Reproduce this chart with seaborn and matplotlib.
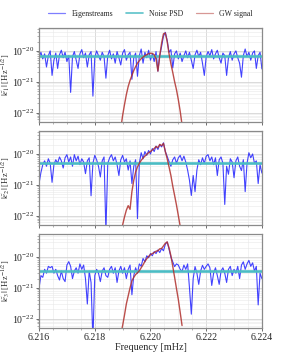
import matplotlib
matplotlib.use("Agg")
import matplotlib.pyplot as plt
import numpy as np
import seaborn as sns
from matplotlib.lines import Line2D
from matplotlib.ticker import (MultipleLocator, FixedLocator, NullFormatter,
                               FormatStrFormatter, LogFormatterMathtext)

# frequency grid (mHz), 121 bins between 6.216 and 6.224
freqs = np.linspace(6.216, 6.224, 121)
sig_freqs = freqs[44:78]

# eigenstream amplitudes, in units of 1e-21 Hz^-1/2
stream1 = [6.0, 9.0, 5.5, 8.0, 3.0, 7.0, 10.0, 1.6, 5.0, 8.5,
           2.7, 7.5, 10.5, 6.0, 9.0, 4.5, 7.0, 0.45, 6.5, 9.5,
           5.0, 2.7, 8.0, 11.0, 6.0, 8.5, 3.0, 7.5, 9.5, 0.34,
           6.0, 10.0, 7.0, 5.0, 9.0, 6.5, 1.3, 7.0, 10.5, 5.5,
           8.0, 4.0, 9.5, 6.0, 3.5, 8.5, 11.0, 5.0, 7.5, 9.0,
           1.2, 6.0, 8.5, 1.5, 7.0, 11.5, 4.0, 9.0, 6.0, 10.5,
           5.0, 8.0, 4.5, 9.5, 2.2, 7.0, 14.0, 30.0, 40.0, 22.0,
           9.0, 11.0, 2.8, 8.0, 10.0, 5.5, 8.5, 4.5, 7.0, 10.0,
           6.0, 9.0, 5.0, 2.7, 7.5, 10.5, 6.5, 9.0, 4.0, 1.6,
           6.5, 9.5, 7.0, 11.0, 5.5, 8.0, 10.5, 6.0, 4.0, 8.5,
           7.0, 1.6, 6.0, 9.5, 5.0, 8.0, 10.0, 6.0, 4.0, 1.4,
           7.0, 11.5, 6.5, 9.0, 5.0, 8.5, 10.0, 2.7, 7.0, 9.0,
           2.6]
stream2 = [1.1, 2.5, 4.5, 6.0, 4.0, 7.0, 5.0, 1.2, 4.5, 6.5,
           5.0, 8.0, 6.0, 3.5, 7.5, 9.5, 5.5, 8.0, 4.0, 9.5,
           6.0, 8.5, 4.5, 7.0, 5.5, 2.3, 6.0, 7.5, 0.44, 5.0,
           9.0, 6.5, 4.0, 1.8, 6.0, 8.0, 0.03, 5.0, 7.5, 9.5,
           6.0, 8.0, 4.5, 2.0, 6.5, 9.0, 5.5, 7.0, 3.0, 6.0,
           1.1, 4.0, 6.5, 0.08, 5.0, 11.0, 7.0, 12.0, 9.0, 13.0,
           10.0, 15.0, 12.0, 18.0, 14.0, 20.0, 17.0, 23.0, 12.0, 8.3,
           5.7, 4.0, 6.5, 8.0, 5.0, 7.5, 9.0, 6.0, 8.5, 5.5,
           3.0, 1.4, 0.45, 2.0, 0.6, 3.0, 6.5, 4.5, 7.5, 5.0,
           8.5, 9.5, 6.0, 8.0, 4.5, 7.5, 2.0, 6.5, 8.0, 5.0,
           0.23, 4.0, 2.2, 7.0, 5.5, 1.7, 6.0, 8.0, 4.0, 2.9,
           6.5, 0.6, 5.0, 11.0, 7.5, 10.0, 5.0, 6.0, 1.1, 4.5,
           2.4]
stream3 = [1.0, 2.5, 2.2, 4.0, 3.0, 5.0, 4.5, 5.0, 3.0, 4.0,
           2.5, 1.8, 3.5, 2.0, 1.6, 5.5, 7.1, 5.0, 2.0, 3.5,
           4.5, 3.0, 6.0, 4.0, 5.5, 2.0, 0.3, 3.5, 1.5, 0.02,
           2.5, 4.0, 3.0, 1.6, 3.5, 4.5, 2.5, 2.2, 4.0, 5.0,
           3.0, 4.5, 1.5, 3.5, 5.0, 3.0, 4.5, 2.0, 4.0, 5.5,
           0.6, 2.5, 4.5, 3.0, 6.0, 5.0, 9.0, 7.0, 11.0, 9.5,
           13.0, 11.0, 15.0, 13.0, 17.0, 14.0, 19.0, 16.0, 26.0, 31.0,
           18.0, 10.0, 7.0, 4.9, 6.0, 5.5, 4.0, 3.4, 5.5, 4.0,
           6.0, 1.0, 0.14, 2.0, 4.9, 3.0, 1.3, 3.5, 5.4, 4.0,
           5.0, 6.0, 4.5, 1.2, 3.0, 4.5, 2.5, 1.3, 3.5, 4.5,
           3.0, 1.5, 4.0, 5.0, 2.5, 4.0, 3.0, 5.0, 2.0, 5.5,
           7.0, 4.0, 6.0, 7.8, 5.0, 6.5, 3.5, 5.0, 0.28, 3.0,
           2.0]

# injected GW signal, same units, on the bins 6.21893 .. 6.22113 mHz
signal1 = [0.03, 0.08, 0.18, 0.38, 0.7, 1.1, 1.6, 2.3, 3.1, 4.0,
           4.8, 5.6, 6.3, 7.0, 7.6, 8.1, 8.4, 8.3, 7.5, 5.5,
           2.2, 7.0, 18.0, 36.0, 38.0, 20.0, 8.0, 3.8, 2.0, 1.0,
           0.55, 0.26, 0.11, 0.04]
signal2 = [0.03, 0.05, 0.09, 0.15, 0.21, 0.16, 0.6, 1.4, 2.6, 3.8,
           5.0, 6.2, 7.4, 8.5, 9.8, 11.0, 12.0, 13.5, 15.0, 17.5,
           16.0, 20.5, 18.5, 22.0, 12.0, 7.0, 3.8, 2.0, 0.9, 0.45,
           0.22, 0.1, 0.045, 0.03]
signal3 = [0.03, 0.06, 0.13, 0.3, 0.55, 1.0, 1.7, 2.2, 2.7, 3.1,
           3.6, 4.5, 5.6, 7.2, 8.8, 10.5, 12.0, 13.0, 14.0, 15.5,
           16.0, 18.5, 19.0, 23.0, 28.0, 31.0, 20.0, 11.0, 5.0, 2.2,
           0.95, 0.42, 0.16, 0.06]

# noise PSD level per channel, units of 1e-21
psd_levels = [6.7, 5.1, 3.6]

y_major = [1e-22, 1e-21, 1e-20]
y_minor = [m * d for d in (1e-23, 1e-22, 1e-21, 1e-20) for m in range(2, 10)
           if 5e-23 <= m * d <= 5.5e-20]

C_STREAM = "#1414ff"
C_PSD = "#4bbcc4"
C_SIG = "#b0302c"

sns.set_theme(style="whitegrid")
plt.rcParams['font.family'] = ['Liberation Serif', 'DejaVu Serif']
plt.rcParams['mathtext.fontset'] = 'stix'

fig, axes = plt.subplots(3, 1, figsize=(2.81, 3.6), dpi=100, sharex=True)
fig.subplots_adjust(left=0.139, right=0.932, top=0.922, bottom=0.089, hspace=0.1)

streams = [stream1, stream2, stream3]
signals = [signal1, signal2, signal3]
for k, ax in enumerate(axes):
    sns.lineplot(x=freqs, y=np.array(streams[k]) * 1e-21, ax=ax, color=C_STREAM,
                 lw=0.8, alpha=0.8, estimator=None, sort=False)
    sns.lineplot(x=[freqs[0], freqs[-1]], y=[psd_levels[k] * 1e-21] * 2, ax=ax,
                 color=C_PSD, lw=1.9, estimator=None)
    sns.lineplot(x=sig_freqs, y=np.array(signals[k]) * 1e-21, ax=ax, color=C_SIG,
                 lw=1.0, alpha=0.85, estimator=None, sort=False)
    ax.set_yscale('log')
    ax.set_ylim(5e-23, 5.5e-20)
    ax.set_xlim(6.216, 6.224)
    ax.xaxis.set_major_locator(MultipleLocator(0.002))
    ax.xaxis.set_minor_locator(MultipleLocator(0.0005))
    ax.yaxis.set_major_locator(FixedLocator(y_major))
    ax.yaxis.set_major_formatter(LogFormatterMathtext())
    ax.yaxis.set_minor_locator(FixedLocator(y_minor))
    ax.yaxis.set_minor_formatter(NullFormatter())
    ax.grid(True, which='major', color='#d4d4d4', lw=0.6)
    ax.grid(True, which='minor', color='#e8e8e8', lw=0.4)
    ax.tick_params(axis='both', which='major', labelsize=7.1, length=2.2, width=0.6,
                   color='#555555', pad=1.2, bottom=True, left=True)
    ax.tick_params(axis='both', which='minor', length=1.5, width=0.4,
                   color='#777777', bottom=True, left=True)
    for sp in ax.spines.values():
        sp.set_color('#8a8a8a')
        sp.set_linewidth(0.9)
    ax.set_ylabel(r'$|\tilde{e}_%d|$ [Hz$^{-1/2}$]' % (k + 1), fontsize=6.2)
    ax.yaxis.set_label_coords(-0.118, 0.5)
    ax.set_xlabel('')

axes[-1].set_xlabel('Frequency [mHz]', fontsize=7.3, labelpad=1)
axes[-1].xaxis.set_major_formatter(FormatStrFormatter('%.3f'))

handles = [Line2D([], [], color=C_STREAM, lw=0.9, alpha=0.55),
           Line2D([], [], color=C_PSD, lw=1.2, alpha=0.9),
           Line2D([], [], color=C_SIG, lw=0.9, alpha=0.5)]
fig.legend(handles, ['Eigenstreams', 'Noise PSD', 'GW signal'],
           loc='center', bbox_to_anchor=(0.535, 0.961), ncol=3, frameon=False,
           fontsize=5.6, handlelength=2.2, columnspacing=1.6, handletextpad=0.8)

plt.savefig('out.png', dpi=100)
plt.close()
